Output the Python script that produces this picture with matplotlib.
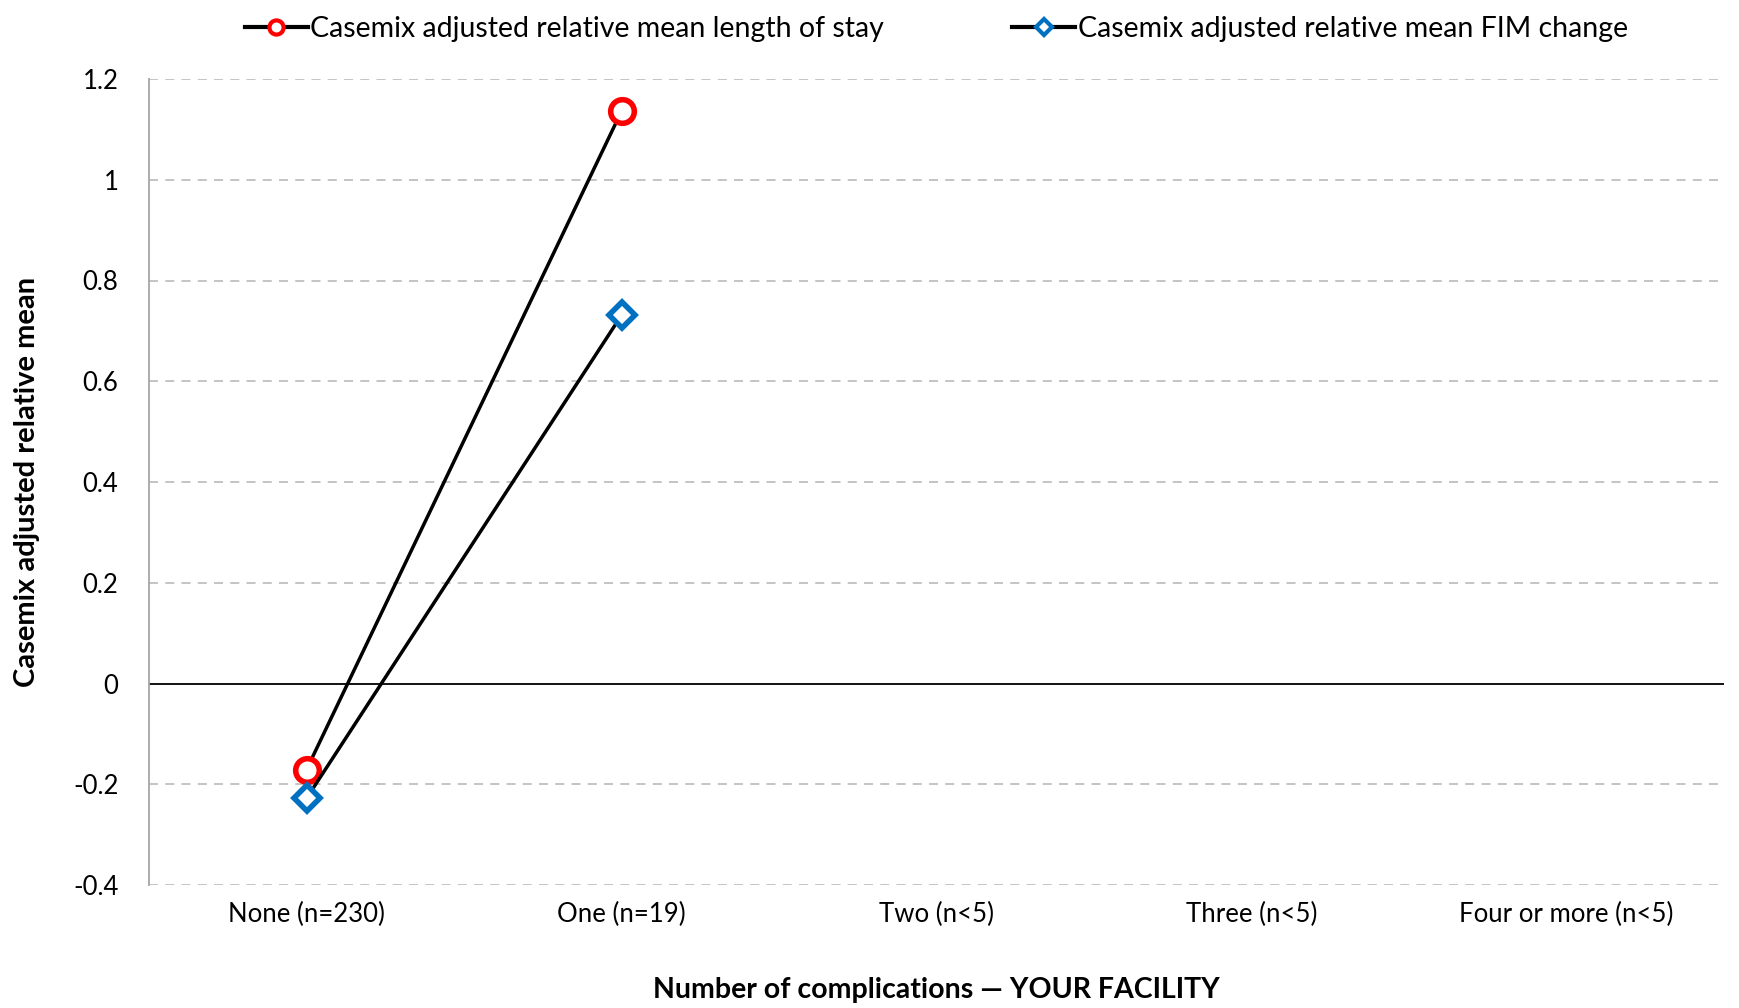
import matplotlib
matplotlib.use("Agg")
import matplotlib.pyplot as plt
import numpy as np

# chart values
categories = ["None (n=230)", "One (n=19)", "Two (n<5)", "Three (n<5)", "Four or more (n<5)"]
los_values = [-0.171, 1.136, np.nan, np.nan, np.nan]
fim_values = [-0.228, 0.731, np.nan, np.nan, np.nan]
y_ticks = [-0.4, -0.2, 0, 0.2, 0.4, 0.6, 0.8, 1, 1.2]
y_tick_labels = ["-0.4", "-0.2", "0", "0.2", "0.4", "0.6", "0.8", "1", "1.2"]

plt.rcParams['font.family'] = ['Lato', 'DejaVu Sans']

fig = plt.figure(figsize=(17.39, 10.08), dpi=100)
ax = fig.add_axes([149 / 1739, 1 - 885 / 1008, (1724 - 149) / 1739, (885 - 79) / 1008])

x = np.arange(len(categories))
ax.plot(x, los_values, color='black', lw=2.5, marker='o', ms=17, mfc='white',
        mec='#ff0000', mew=4, label="Casemix adjusted relative mean length of stay", zorder=3)
ax.plot(x, fim_values, color='black', lw=2.5, marker='D', ms=13, mfc='white',
        mec='#0070c0', mew=4, label="Casemix adjusted relative mean FIM change", zorder=3)

ax.set_xlim(-0.5, len(categories) - 0.5)
ax.set_ylim(-0.4, 1.2)
ax.set_xticks(x)
ax.set_xticklabels(categories, fontsize=18.5)
ax.set_yticks(y_ticks)
ax.set_yticklabels(y_tick_labels, fontsize=18.5)
ax.tick_params(length=0, pad=12)
ax.tick_params(axis='y', pad=22)

for yv in y_ticks:
    if yv == 0:
        ax.axhline(0, color='black', lw=1.3, zorder=2)
    else:
        ax.axhline(yv, color='#bfbfbf', lw=1.3, ls=(0, (5, 4)), zorder=1)

for s in ['top', 'right', 'bottom']:
    ax.spines[s].set_visible(False)
ax.spines['left'].set_color('#a6a6a6')
ax.spines['left'].set_linewidth(1.3)

ax.set_xlabel("Number of complications \u2014 YOUR FACILITY", fontsize=20.5, fontweight='bold', labelpad=36)
ax.set_ylabel("Casemix adjusted relative mean", fontsize=21, fontweight='bold', labelpad=24)

leg = ax.legend(loc='lower center', bbox_to_anchor=(0.5, 1.0), ncol=2, frameon=False, fontsize=20.5,
                handlelength=2.2, handletextpad=0.1, columnspacing=4.5, borderaxespad=0.9,
                markerscale=0.6)
for line in leg.get_lines():
    line.set_linewidth(3)
    line.set_markeredgewidth(3)

fig.savefig("out.png", dpi=100)
